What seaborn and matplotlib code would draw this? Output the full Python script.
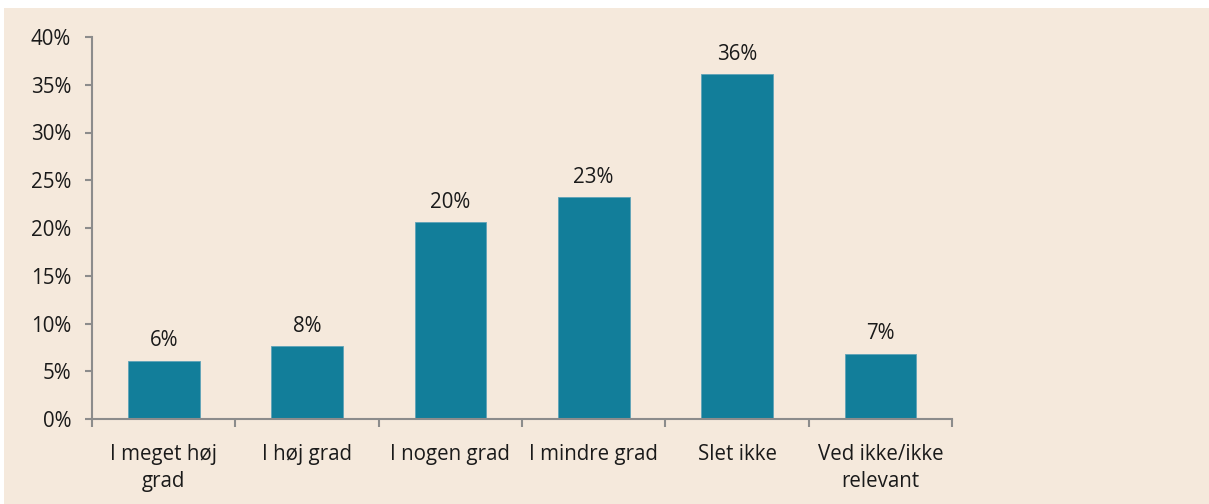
import numpy as np
import pandas as pd
import matplotlib
matplotlib.use("Agg")
import matplotlib.pyplot as plt
import seaborn as sns
from matplotlib.patches import Rectangle
from matplotlib.ticker import FixedLocator, PercentFormatter

# --- data ---
CATEGORIES = ["I meget høj\ngrad", "I høj grad", "I nogen grad", "I mindre grad",
              "Slet ikke", "Ved ikke/ikke\nrelevant"]
VALUES = [6.1, 7.6, 20.6, 23.2, 36.1, 6.8]
LABELS = ["6%", "8%", "20%", "23%", "36%", "7%"]
Y_TICKS = [0, 5, 10, 15, 20, 25, 30, 35, 40]

BG = "#F5E9DC"
BAR = "#127E9A"
AXIS = "#8C8C8C"
FS = 14.8

sns.set_style("white")
plt.rcParams["font.family"] = ["Open Sans", "DejaVu Sans"]

df = pd.DataFrame({"cat": CATEGORIES, "val": VALUES})

fig = plt.figure(figsize=(12.09, 5.04), dpi=100, facecolor="white")
# beige panel leaving a thin white strip on top and left
fig.patches.append(Rectangle((4 / 1209, 0), 1, 1 - 8 / 504, transform=fig.transFigure,
                             facecolor=BG, edgecolor="none", zorder=-10))

ax = fig.add_axes([92 / 1209, 1 - 419 / 504, (952 - 92) / 1209, (419 - 37) / 504])
ax.set_facecolor("none")

sns.barplot(data=df, x="cat", y="val", color=BAR, width=0.5, saturation=1,
            edgecolor="#5FA3B8", linewidth=0.6, ax=ax)

ax.bar_label(ax.containers[0], labels=LABELS, padding=7, fontsize=FS, color="#1a1a1a")

ax.set_ylim(0, 40)
ax.set_xlim(-0.5, len(CATEGORIES) - 0.5)
ax.yaxis.set_major_locator(FixedLocator(Y_TICKS))
ax.yaxis.set_major_formatter(PercentFormatter(decimals=0))

for side in ["top", "right"]:
    ax.spines[side].set_visible(False)
for side in ["left", "bottom"]:
    ax.spines[side].set_color(AXIS)
    ax.spines[side].set_linewidth(1.5)

ax.tick_params(axis="y", which="major", direction="out", length=5, width=1.5,
               color=AXIS, labelsize=FS, labelcolor="#1a1a1a", pad=10, left=True)
ax.tick_params(axis="x", which="major", length=0, labelsize=FS, labelcolor="#1a1a1a", pad=18)
# boundary ticks between categories
ax.xaxis.set_minor_locator(FixedLocator(np.arange(-0.5, len(CATEGORIES), 1.0)))
ax.tick_params(axis="x", which="minor", direction="out", length=6, width=1.5,
               color=AXIS, bottom=True)
for lab in ax.get_xticklabels():
    lab.set_linespacing(1.4)

ax.set_xlabel("")
ax.set_ylabel("")

fig.savefig("out.png", dpi=100, facecolor=fig.get_facecolor())
